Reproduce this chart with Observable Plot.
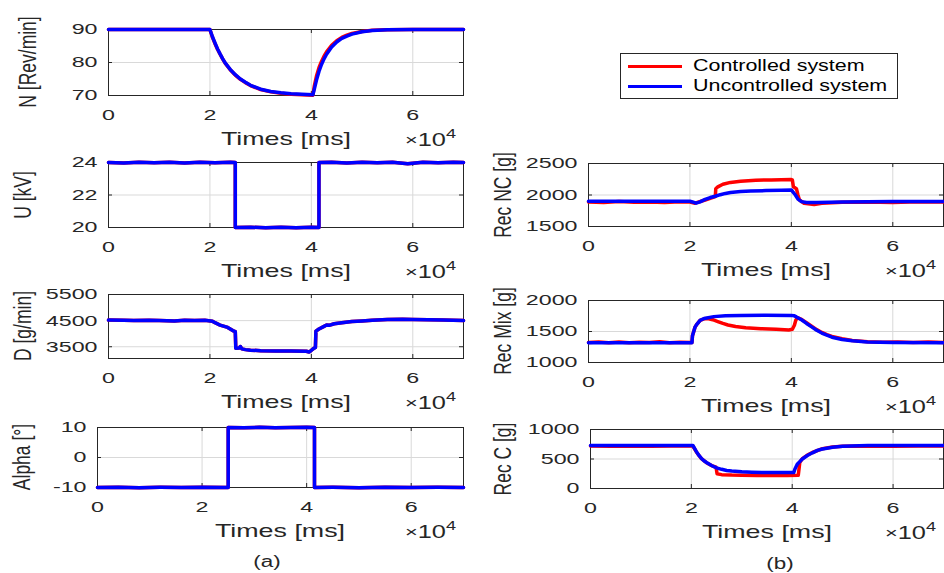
<!DOCTYPE html>
<html><head><meta charset="utf-8">
<script src="https://cdn.jsdelivr.net/npm/d3@7"></script>
<script src="https://cdn.jsdelivr.net/npm/@observablehq/plot@0.6"></script>
<style>
body{margin:0;background:#fff;}
#fig{position:relative;width:944px;height:573px;overflow:hidden;background:#fff;font-family:"Liberation Sans",Arial,sans-serif;color:#262626;}
#fig svg{position:absolute;overflow:visible;}
.t{position:absolute;white-space:nowrap;line-height:1;}
</style></head><body><div id="fig"></div>
<script>
// ---------- data (time in ms) ----------
const xTicks = [0, 20000, 40000, 60000];
const legendLabels = ["Controlled system", "Uncontrolled system"];

const tN = [0,20000,20500,21000,21500,22000,22500,23000,24000,25000,26000,27000,28000,30000,32000,34000,36000,40300,40600,41000,41500,42000,42500,43000,44000,45000,46000,47000,48000,50000,52000,55000,60000,70000];
const nBlue = [90,90,87.8,85.9,84.1,82.6,81.2,79.9,77.9,76.3,75.0,74.0,73.1,71.9,71.2,70.8,70.5,70.2,72.0,74.6,77.3,79.4,81.1,82.5,84.7,86.2,87.3,88.0,88.6,89.3,89.7,89.9,90,90];
const nRed  = [90,90,87.6,85.7,84.0,82.5,81.1,79.8,77.8,76.2,74.9,73.9,73.0,71.8,71.1,70.7,70.4,70.1,73.0,75.8,78.4,80.3,81.9,83.2,85.2,86.6,87.6,88.3,88.8,89.4,89.8,89.9,90,90];

const tU = [0,3000,6000,9000,12000,15000,18000,21000,24000,25000,25000,28000,31000,34000,37000,40000,41500,41500,44000,47000,50000,53000,56000,59000,62000,65000,68000,70000];
const uVals = [24,23.97,24.02,23.98,24.01,23.97,24.02,23.99,24.01,24,20,20.02,19.98,20.01,19.98,20.02,20,24,24.02,23.97,24.01,23.98,24.02,23.92,24.01,23.98,24.02,24];

const tD = [0,3000,5000,8000,10000,13000,15000,17000,19000,20500,21000,22000,23500,24500,25000,25100,25800,26000,26300,27000,28000,30000,33000,36000,39000,39600,40400,40800,40900,41500,42500,43000,43500,44500,46000,48000,50000,52000,55000,58000,60000,63000,66000,70000];
const dVals = [4520,4510,4500,4510,4500,4490,4510,4500,4510,4480,4420,4330,4240,4120,4080,3440,3450,3510,3420,3390,3370,3350,3340,3340,3330,3300,3430,3470,4100,4180,4280,4330,4320,4380,4420,4470,4490,4510,4540,4550,4540,4530,4520,4500];

const tA = [0,4000,8000,12000,16000,20000,25000,25000,28000,31000,34000,37000,40000,41500,41500,45000,50000,55000,60000,65000,70000];
const aVals = [-10,-9.9,-10.05,-9.95,-10,-9.9,-10,10,9.9,10.05,9.95,10,10.05,10,-10,-9.95,-10.05,-9.9,-10,-9.95,-10];

const tNcRed = [0,3000,6000,9000,12000,15000,18000,20000,21000,23000,25000,25100,25500,26500,28000,30000,33000,36000,40000,40200,40400,41000,41300,41600,42500,44500,46000,50000,55000,60000,65000,70000];
const ncRed  = [1890,1880,1895,1885,1890,1882,1893,1890,1870,1920,1975,2100,2130,2170,2200,2220,2235,2240,2245,2240,2130,2100,2000,1920,1870,1850,1870,1885,1890,1880,1892,1888];
const tNcBlue = [0,20000,20500,21200,22000,23000,24000,25000,26000,27000,28000,30000,32000,35000,38000,40000,40300,40800,41300,42000,43000,45000,50000,60000,70000];
const ncBlue  = [1900,1900,1890,1870,1890,1930,1960,1980,2005,2025,2040,2055,2063,2070,2075,2080,2050,2000,1935,1895,1880,1880,1890,1895,1895];

const tMixRed = [0,2000,4000,6000,8000,10000,12000,14000,16000,18000,20400,20500,21000,21400,22000,22800,23500,24500,25500,26500,27500,29000,31000,34000,37000,39500,40200,40600,40900,41300,42000,43000,44000,45000,46000,47000,48000,50000,52000,55000,58000,61000,64000,67000,70000];
const mixRed  = [1322,1330,1318,1332,1320,1328,1321,1334,1319,1327,1322,1430,1570,1620,1680,1705,1710,1690,1660,1630,1605,1580,1560,1545,1535,1525,1535,1600,1690,1720,1695,1640,1585,1530,1485,1450,1420,1385,1355,1335,1326,1332,1322,1330,1322];
const tMixBlue = [0,10000,20400,20500,21000,21400,22000,22800,24700,27000,30000,35000,40000,40500,41000,42000,43000,44000,45000,46000,47000,48000,50000,52000,55000,60000,70000];
const mixBlue  = [1320,1320,1320,1430,1570,1620,1680,1710,1740,1755,1760,1762,1760,1755,1735,1690,1630,1575,1520,1475,1440,1408,1372,1350,1330,1322,1320];

const tCRed = [0,4000,8000,12000,16000,20300,21000,22000,23000,24000,24900,25100,26000,28000,30000,33000,36000,39000,41200,41500,42000,43000,44000,46000,48000,50000,55000,60000,65000,70000];
const cRed  = [720,715,722,718,720,720,620,505,438,388,360,250,235,228,225,222,220,222,225,440,505,565,610,675,705,718,722,715,720,722];
const tCBlue = [0,10000,20300,21000,21500,22000,22500,23000,24000,25000,26000,27000,28000,30000,32000,34000,36000,40300,40500,41000,41500,42000,43000,44000,45000,46000,48000,50000,55000,70000];
const cBlue  = [730,730,730,625,560,510,470,440,390,350,325,305,295,282,276,272,270,270,320,410,455,500,560,605,645,670,700,715,728,730];

// ---------- layout ----------
const RED = "#ff0000", BLUE = "#0000ff";
const panels = [
  {fx:108, fy:29,  fw:355, fh:66, yDomain:[70,90],     yTicks:[70,80,90],        ylab:"N [Rev/min]", ylx:29,
   series:[[tN,nRed,RED],[tN,nBlue,BLUE]]},
  {fx:108, fy:162, fw:355, fh:65, yDomain:[20,24],     yTicks:[20,22,24],        ylab:"U [kV]", ylx:24,
   series:[[tU,uVals,RED],[tU,uVals,BLUE]]},
  {fx:108, fy:294, fw:355, fh:64, yDomain:[3050,5500], yTicks:[3500,4500,5500],  ylab:"D [g/min]", ylx:24,
   series:[[tD,dVals,RED],[tD,dVals,BLUE]]},
  {fx:97,  fy:427, fw:366, fh:60, yDomain:[-10,10],    yTicks:[-10,0,10],        ylab:"Alpha [°]", ylx:23,
   series:[[tA,aVals,RED],[tA,aVals,BLUE]]},
  {fx:588, fy:163, fw:355, fh:63, yDomain:[1500,2500], yTicks:[1500,2000,2500],  ylab:"Rec NC [g]", ylx:504,
   series:[[tNcRed,ncRed,RED],[tNcBlue,ncBlue,BLUE]]},
  {fx:588, fy:300, fw:355, fh:62, yDomain:[1000,2000], yTicks:[1000,1500,2000],  ylab:"Rec Mix [g]", ylx:504,
   series:[[tMixRed,mixRed,RED],[tMixBlue,mixBlue,BLUE]]},
  {fx:590, fy:429, fw:353, fh:59, yDomain:[0,1000],    yTicks:[0,500,1000],      ylab:"Rec C [g]", ylx:504,
   series:[[tCRed,cRed,RED],[tCBlue,cBlue,BLUE]]}
];

const fig = document.getElementById("fig");

function stretch(svg, k){
  svg.querySelectorAll("text").forEach(t => {
    const tr = t.getAttribute("transform") || "";
    const x = parseFloat(t.getAttribute("x") || "0");
    if (x) { t.removeAttribute("x"); t.setAttribute("transform", `${tr} translate(${x},0) scale(${k},1)`); }
    else t.setAttribute("transform", `${tr} scale(${k},1)`);
  });
}

function addText(html, x, y, size, k, opts = {}){
  const d = document.createElement("div");
  d.className = "t";
  d.innerHTML = html;
  d.style.left = x + "px";
  d.style.top = y + "px";
  d.style.fontSize = size + "px";
  d.style.color = opts.color || "#262626";
  if (opts.rotate) {
    d.style.transform = `translate(-50%,-50%) scaleX(${k}) rotate(-90deg)`;
  } else if (opts.left) {
    d.style.transformOrigin = "0 50%";
    d.style.transform = `translate(0,-50%) scaleX(${k})`;
  } else {
    d.style.transform = `translate(-50%,-50%) scaleX(${k})`;
  }
  fig.appendChild(d);
  return d;
}

const ml = 70, mr = 1, mt = 6, mb = 32;
for (const p of panels) {
  const lineMarks = p.series.map(([t, v, c]) =>
    Plot.line(t.map((ti, i) => ({t: ti, v: v[i]})), {x: "t", y: "v", stroke: c, strokeWidth: 3.5}));
  const svg = Plot.plot({
    width: ml + p.fw + mr, height: mt + p.fh + mb,
    marginLeft: ml, marginRight: mr, marginTop: mt, marginBottom: mb,
    x: {domain: [0, 70000]},
    y: {domain: p.yDomain},
    style: {fontSize: "15.5px", fontFamily: "'Liberation Sans', Arial, sans-serif", color: "#262626", background: "transparent", overflow: "visible"},
    marks: [
      Plot.gridX(xTicks, {stroke: "#d9d9d9", strokeOpacity: 1}),
      Plot.gridY(p.yTicks, {stroke: "#d9d9d9", strokeOpacity: 1}),
      Plot.ruleX(xTicks, {insetTop: p.fh - 4, stroke: "#262626"}),
      Plot.ruleX(xTicks, {insetBottom: p.fh - 4, stroke: "#262626"}),
      Plot.ruleY(p.yTicks, {insetRight: p.fw - 4, stroke: "#262626"}),
      Plot.ruleY(p.yTicks, {insetLeft: p.fw - 4, stroke: "#262626"}),
      Plot.frame({stroke: "#262626"}),
      ...lineMarks,
      Plot.axisX(xTicks, {tickSize: 0, tickPadding: 13, tickFormat: d => String(d / 10000), label: null}),
      Plot.axisY(p.yTicks, {tickSize: 0, tickPadding: 11, tickFormat: d => String(d), label: null})
    ]
  });
  svg.style.left = (p.fx - ml) + "px";
  svg.style.top = (p.fy - mt) + "px";
  stretch(svg, 1.5);
  fig.appendChild(svg);

  addText("Times [ms]", p.fx + p.fw / 2, p.fy + p.fh + 44, 18.5, 1.45);
  addText(`<span style="font-size:15px;position:relative;top:-1px">×</span>10<span style="font-size:12.5px;position:relative;top:-8px">4</span>`,
          p.fx + p.fw - 58, p.fy + p.fh + 46, 17.5, 1.45, {left: true});
  addText(p.ylab, p.ylx, p.fy + p.fh / 2, 17.5, 1.35, {rotate: true});
}

addText("(a)", 267, 562, 16, 1.4);
addText("(b)", 780, 564, 16, 1.4);

// legend
const box = document.createElement("div");
Object.assign(box.style, {position: "absolute", left: "620px", top: "53px", width: "278px", height: "46px",
  border: "1px solid #262626", boxSizing: "border-box", background: "#fff"});
fig.appendChild(box);
[RED, BLUE].forEach((c, i) => {
  const ln = document.createElement("div");
  Object.assign(ln.style, {position: "absolute", left: "628px", top: (64.5 + i * 20) + "px", width: "54px", height: "3.5px", background: c});
  fig.appendChild(ln);
  addText(legendLabels[i], 693, 66 + i * 20, 16, 1.34, {left: true, color: "#000"});
});
</script>
</body></html>
